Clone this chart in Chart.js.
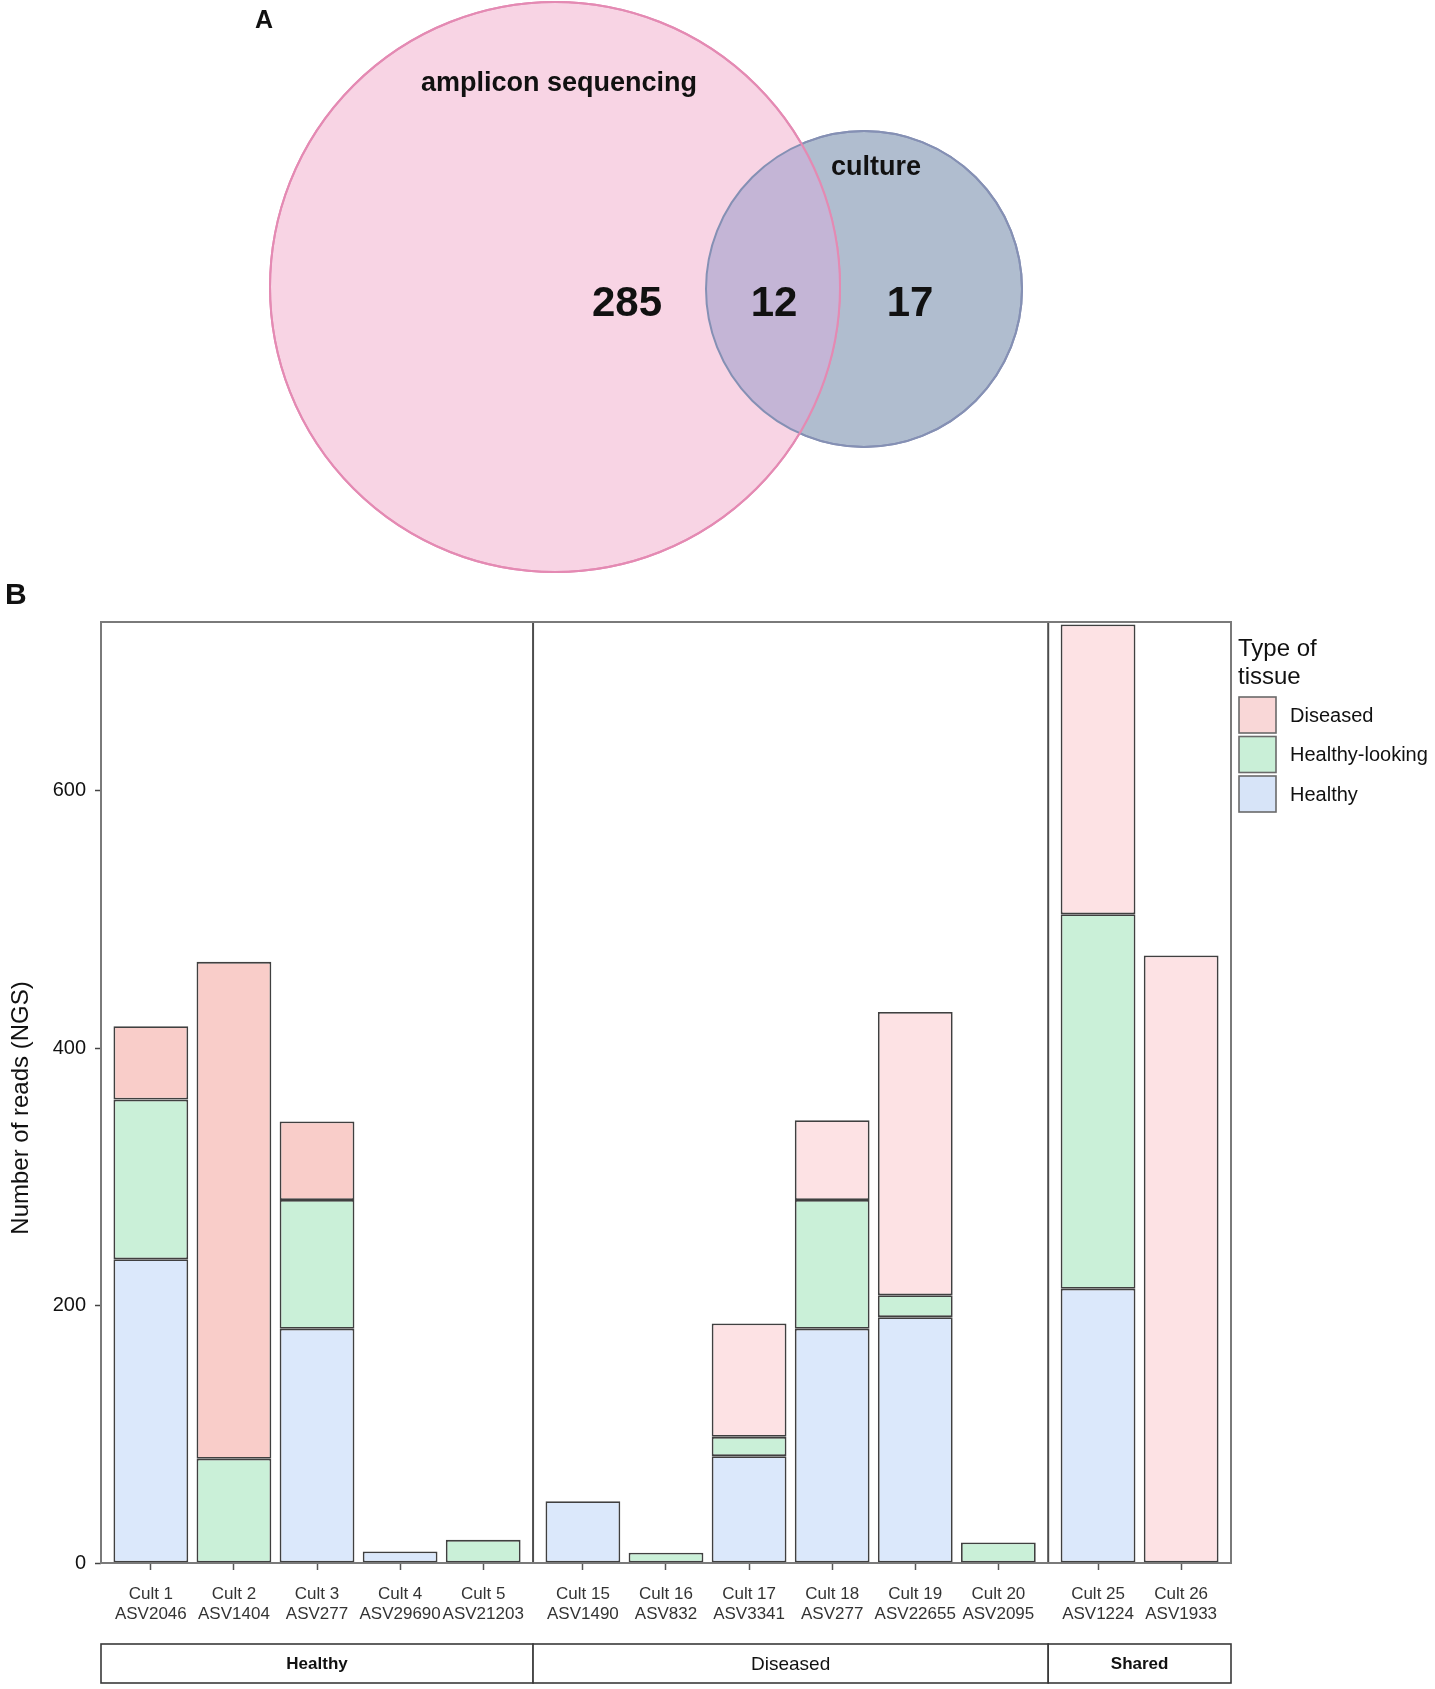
<!DOCTYPE html>
<html>
<head>
<meta charset="utf-8">
<script src="https://cdn.jsdelivr.net/npm/chart.js@4/dist/chart.umd.min.js"></script>
<style>
html, body { margin: 0; padding: 0; background: #ffffff; }
#wrap { position: relative; width: 1435px; height: 1689px; overflow: hidden; background: #ffffff; }
#venn { position: absolute; left: 0; top: 0; }
#bars { position: absolute; left: 0; top: 560px; }
</style>
</head>
<body>
<div id="wrap">
  <canvas id="venn" width="1435" height="590"></canvas>
  <canvas id="bars" width="1435" height="1129"></canvas>
</div>
<script>
// ---------------- DATA ----------------
// Panel A (Venn)
const vennSetNames = ['amplicon sequencing', 'culture'];
const vennCounts = [285, 12, 17];   // only amplicon, shared, only culture

// Panel B (stacked bars)
const cultures = ['Cult 1', 'Cult 2', 'Cult 3', 'Cult 4', 'Cult 5',
                  'Cult 15', 'Cult 16', 'Cult 17', 'Cult 18', 'Cult 19', 'Cult 20',
                  'Cult 25', 'Cult 26'];
const asvs = ['ASV2046', 'ASV1404', 'ASV277', 'ASV29690', 'ASV21203',
              'ASV1490', 'ASV832', 'ASV3341', 'ASV277', 'ASV22655', 'ASV2095',
              'ASV1224', 'ASV1933'];
const groups = ['Healthy', 'Diseased', 'Shared'];
const groupSizes = [5, 6, 2];
const tissueTypes = ['Healthy', 'Healthy-looking', 'Diseased'];   // stacking order, bottom to top
const healthy        = [236, 0, 182, 9, 0, 48, 0, 83, 182, 191, 0, 213, 0];
const healthyLooking = [124, 81, 100, 0, 18, 0, 8, 15, 100, 17, 16, 291, 0];
const diseased       = [57, 386, 61, 0, 0, 0, 0, 88, 62, 220, 0, 225, 472];
const yTicks = [0, 200, 400, 600];
const yMax = 731;

// ---------------- STYLE / LAYOUT ----------------
const FONT = "'Liberation Sans', Arial, Helvetica, sans-serif";
Chart.defaults.font.family = FONT;

const vennStyle = {
  big:   { cx: 555, cy: 287, r: 285, fill: '#f8d4e4', stroke: '#e48ab3' },
  small: { cx: 864, cy: 289, r: 158, fill: '#b0bdcf', stroke: '#8590b4' },
  overlapFill: '#c4b5d6'
};
const vennText = {
  setLabels: [{ x: 559, y: 91 }, { x: 876, y: 175 }],
  counts: [{ x: 627, y: 316 }, { x: 774, y: 316 }, { x: 910, y: 316 }]
};

const colHealthy = '#dbe8fb';
const colHL = '#caf0d8';
const colDisHealthyFacet = '#f9cdc9';
const colDisOther = '#fde2e4';
const legendColors = { 'Diseased': '#f9d7d7', 'Healthy-looking': '#c9efd7', 'Healthy': '#d7e4f8' };
const stripFonts = ['bold 17px ', '19px ', 'bold 17px '];

// ---------------- PANEL A: Venn via bubble chart ----------------
const vennPlugin = {
  id: 'vennExtras',
  afterDatasetsDraw(chart) {
    const ctx = chart.ctx;
    const a = chart.getDatasetMeta(0).data[0];
    const b = chart.getDatasetMeta(1).data[0];
    const ra = a.options.radius, rb = b.options.radius;
    ctx.save();
    // overlap lens
    ctx.beginPath(); ctx.arc(a.x, a.y, ra, 0, Math.PI * 2); ctx.clip();
    ctx.beginPath(); ctx.arc(b.x, b.y, rb, 0, Math.PI * 2);
    ctx.fillStyle = vennStyle.overlapFill; ctx.fill();
    ctx.restore();
    ctx.save();
    ctx.lineWidth = 2;
    ctx.beginPath(); ctx.arc(b.x, b.y, rb, 0, Math.PI * 2);
    ctx.strokeStyle = vennStyle.small.stroke; ctx.stroke();
    ctx.beginPath(); ctx.arc(a.x, a.y, ra, 0, Math.PI * 2);
    ctx.strokeStyle = vennStyle.big.stroke; ctx.stroke();
    // texts
    ctx.fillStyle = '#111';
    ctx.textAlign = 'center';
    ctx.textBaseline = 'alphabetic';
    ctx.font = 'bold 27px ' + FONT;
    vennSetNames.forEach((t, i) => ctx.fillText(t, vennText.setLabels[i].x, vennText.setLabels[i].y));
    ctx.font = 'bold 42px ' + FONT;
    vennCounts.forEach((c, i) => ctx.fillText(String(c), vennText.counts[i].x, vennText.counts[i].y));
    ctx.textAlign = 'left';
    ctx.font = 'bold 25px ' + FONT;
    ctx.fillText('A', 255, 28);
    ctx.restore();
  }
};

new Chart(document.getElementById('venn'), {
  type: 'bubble',
  data: {
    datasets: [
      { label: vennSetNames[0], data: [{ x: vennStyle.big.cx, y: vennStyle.big.cy, r: vennStyle.big.r }],
        backgroundColor: vennStyle.big.fill, borderColor: vennStyle.big.stroke, borderWidth: 2, clip: false },
      { label: vennSetNames[1], data: [{ x: vennStyle.small.cx, y: vennStyle.small.cy, r: vennStyle.small.r }],
        backgroundColor: vennStyle.small.fill, borderColor: vennStyle.small.stroke, borderWidth: 2, clip: false }
    ]
  },
  options: {
    responsive: false, animation: false, events: [],
    layout: { padding: 0, autoPadding: false },
    plugins: { legend: { display: false }, tooltip: { enabled: false } },
    scales: {
      x: { type: 'linear', min: 0, max: 1435, display: false },
      y: { type: 'linear', min: 0, max: 590, reverse: true, display: false }
    }
  },
  plugins: [vennPlugin]
});

// ---------------- PANEL B: stacked bars ----------------
// x positions: facets laid out like ggplot discrete scales (0.6 expansion on each side)
const expand = 0.6;
const xPositions = [];
const facetBounds = [0];
const facetOf = [];
(function () {
  let start = 0;
  groupSizes.forEach((n, g) => {
    for (let i = 0; i < n; i++) { xPositions.push(start + expand + i); facetOf.push(g); }
    start += (n - 1) + 2 * expand;
    facetBounds.push(start);
  });
})();

const toPoints = arr => arr.map((v, i) => ({ x: xPositions[i], y: v === 0 ? null : v }));

const barsPlugin = {
  id: 'barsExtras',
  afterDraw(chart) {
    const ctx = chart.ctx;
    const ca = chart.chartArea;
    const xs = chart.scales.x;
    ctx.save();
    // facet dividers
    ctx.strokeStyle = '#4d4d4d'; ctx.lineWidth = 2;
    for (let i = 1; i < facetBounds.length - 1; i++) {
      const px = xs.getPixelForValue(facetBounds[i]);
      ctx.beginPath(); ctx.moveTo(px, ca.top); ctx.lineTo(px, ca.bottom); ctx.stroke();
    }
    // panel border
    ctx.strokeStyle = '#7a7a7a'; ctx.lineWidth = 2;
    ctx.strokeRect(ca.left, ca.top, ca.right - ca.left, ca.bottom - ca.top);
    // strips (bottom)
    const sTop = ca.bottom + 81, sH = 39;
    ctx.textAlign = 'center'; ctx.textBaseline = 'middle';
    groups.forEach((g, i) => {
      const x0 = xs.getPixelForValue(facetBounds[i]);
      const x1 = xs.getPixelForValue(facetBounds[i + 1]);
      ctx.fillStyle = '#ffffff'; ctx.fillRect(x0, sTop, x1 - x0, sH);
      ctx.strokeStyle = '#3a3a3a'; ctx.lineWidth = 1.6;
      ctx.strokeRect(x0, sTop, x1 - x0, sH);
      ctx.fillStyle = '#111';
      ctx.font = stripFonts[i] + FONT;
      ctx.fillText(g, (x0 + x1) / 2, sTop + sH / 2 + 1);
    });
    // y axis title
    ctx.save();
    ctx.translate(21, 548);
    ctx.rotate(-Math.PI / 2);
    ctx.font = '24px ' + FONT;
    ctx.fillStyle = '#111';
    ctx.textAlign = 'center'; ctx.textBaseline = 'middle';
    ctx.fillText('Number of reads (NGS)', 0, 0);
    ctx.restore();
    // panel label
    ctx.font = 'bold 30px ' + FONT;
    ctx.fillStyle = '#111';
    ctx.textAlign = 'left'; ctx.textBaseline = 'alphabetic';
    ctx.fillText('B', 5, 44);
    // legend
    const lx = ca.right + 8;
    ctx.font = '24px ' + FONT;
    ctx.fillStyle = '#111';
    ctx.fillText('Type of', lx - 1, ca.top + 34);
    ctx.fillText('tissue', lx - 1, ca.top + 62);
    const order = tissueTypes.slice().reverse();
    order.forEach((t, i) => {
      const ky = ca.top + 75 + i * 39.5;
      ctx.fillStyle = legendColors[t];
      ctx.fillRect(lx, ky, 37, 36);
      ctx.strokeStyle = '#6a6a6a'; ctx.lineWidth = 1.6;
      ctx.strokeRect(lx, ky, 37, 36);
      ctx.fillStyle = '#111';
      ctx.font = '20px ' + FONT;
      ctx.textBaseline = 'middle';
      ctx.fillText(t, lx + 51, ky + 19);
      ctx.textBaseline = 'alphabetic';
    });
    ctx.restore();
  }
};

const barBorder = '#404040';
new Chart(document.getElementById('bars'), {
  type: 'bar',
  data: {
    datasets: [
      { label: tissueTypes[0], data: toPoints(healthy), backgroundColor: colHealthy,
        borderColor: barBorder, borderWidth: 1.8, borderSkipped: false },
      { label: tissueTypes[1], data: toPoints(healthyLooking), backgroundColor: colHL,
        borderColor: barBorder, borderWidth: 1.8, borderSkipped: false },
      { label: tissueTypes[2], data: toPoints(diseased),
        backgroundColor: ctx => facetOf[ctx.dataIndex] === 0 ? colDisHealthyFacet : colDisOther,
        borderColor: barBorder, borderWidth: 1.8, borderSkipped: false }
    ]
  },
  options: {
    responsive: false, animation: false, events: [],
    layout: { padding: { left: 0, right: 204, top: 62, bottom: 56 } },
    datasets: { bar: { barPercentage: 0.9, categoryPercentage: 1.0 } },
    plugins: { legend: { display: false }, tooltip: { enabled: false }, title: { display: false } },
    scales: {
      x: {
        type: 'linear', stacked: true, offset: false,
        min: facetBounds[0], max: facetBounds[facetBounds.length - 1],
        grid: { display: true, drawOnChartArea: false, drawTicks: true, tickLength: 7, color: '#555', tickWidth: 1.5, offset: false },
        border: { display: false },
        afterBuildTicks: s => { s.ticks = xPositions.map(v => ({ value: v })); },
        afterFit: s => { s.height = 70; },
        ticks: {
          autoSkip: false, maxRotation: 0, minRotation: 0, padding: 14,
          color: '#333', font: { size: 17, lineHeight: 1.2 },
          callback: (v, i) => [cultures[i], asvs[i]]
        }
      },
      y: {
        type: 'linear', stacked: true, min: 0, max: yMax,
        grid: { display: true, drawOnChartArea: false, drawTicks: true, tickLength: 6, color: '#444', tickWidth: 1.5 },
        border: { display: false },
        afterBuildTicks: s => { s.ticks = yTicks.map(v => ({ value: v })); },
        afterFit: s => { s.width = 101; },
        ticks: { padding: 9, color: '#111', font: { size: 20 } }
      }
    }
  },
  plugins: [barsPlugin]
});
</script>
</body>
</html>
